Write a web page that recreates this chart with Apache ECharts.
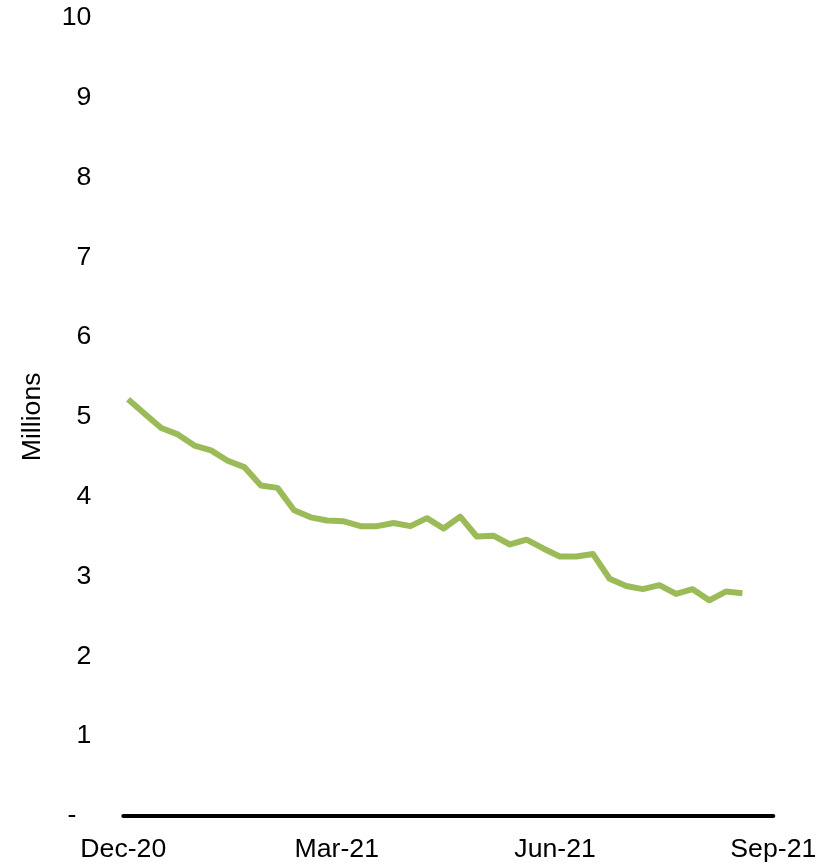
<!DOCTYPE html>
<html>
<head>
<meta charset="utf-8">
<style>
  html, body { margin: 0; padding: 0; background: #ffffff; }
  #chart { width: 832px; height: 866px; }
</style>
<script src="https://cdn.jsdelivr.net/npm/echarts@6/dist/echarts.min.js"></script>
</head>
<body>
<div id="chart"></div>
<script>
// Weekly observation dates
const weeks = [
  '2020-12-03', '2020-12-10', '2020-12-17', '2020-12-24', '2020-12-31',
  '2021-01-07', '2021-01-14', '2021-01-21', '2021-01-28',
  '2021-02-04', '2021-02-11', '2021-02-18', '2021-02-25',
  '2021-03-04', '2021-03-11', '2021-03-18', '2021-03-25',
  '2021-04-01', '2021-04-08', '2021-04-15', '2021-04-22', '2021-04-29',
  '2021-05-06', '2021-05-13', '2021-05-20', '2021-05-27',
  '2021-06-03', '2021-06-10', '2021-06-17', '2021-06-24',
  '2021-07-01', '2021-07-08', '2021-07-15', '2021-07-22', '2021-07-29',
  '2021-08-05', '2021-08-12', '2021-08-19'
];

// Weekly values, millions
const millions = [
  5.22, 5.04, 4.86, 4.78, 4.64, 4.58, 4.45, 4.37, 4.14, 4.11,
  3.83, 3.74, 3.70, 3.69, 3.63, 3.63, 3.67, 3.63, 3.73, 3.60,
  3.75, 3.50, 3.51, 3.40, 3.46, 3.35, 3.25, 3.25, 3.28, 2.97,
  2.88, 2.84, 2.89, 2.78, 2.84, 2.70, 2.81, 2.79
];

// Month ticks on the date axis and their labels
const monthTicks = ['2020-12-01', '2021-03-01', '2021-06-01', '2021-09-01'];
const monthLabels = ['Dec-20', 'Mar-21', 'Jun-21', 'Sep-21'];

// y axis range
const yMin = 0, yMax = 10, yStep = 1;

// dates are placed on a numeric axis as UTC timestamps
const toTime = s => {
  const [y, m, d] = s.split('-').map(Number);
  return Date.UTC(y, m - 1, d);
};
const tickTimes = monthTicks.map(toTime);

const font = '"Liberation Sans", Arial, sans-serif';
const fontSize = 26.67; // 20pt
const chart = echarts.init(document.getElementById('chart'), null, { renderer: 'canvas' });

chart.setOption({
  animation: false,
  backgroundColor: '#ffffff',
  grid: { left: 123.3, right: 58.7, top: 18, bottom: 50.3, containLabel: false },
  xAxis: {
    type: 'value',
    min: tickTimes[0],
    max: tickTimes[tickTimes.length - 1],
    axisLine: { show: true, onZero: false, lineStyle: { color: '#000000', width: 4 } },
    axisTick: { show: false },
    splitLine: { show: false },
    axisLabel: {
      customValues: tickTimes,
      showMinLabel: true,
      showMaxLabel: true,
      hideOverlap: false,
      margin: 20,
      color: '#000000',
      fontFamily: font,
      fontSize: fontSize,
      formatter: v => {
        const i = tickTimes.indexOf(v);
        return i >= 0 ? monthLabels[i] : '';
      }
    }
  },
  yAxis: {
    type: 'value',
    min: yMin,
    max: yMax,
    interval: yStep,
    name: 'Millions',
    nameLocation: 'middle',
    nameRotate: 90,
    nameGap: 77,
    nameTextStyle: { color: '#000000', fontFamily: font, fontSize: fontSize },
    axisLine: { show: false },
    axisTick: { show: false },
    splitLine: { show: false },
    axisLabel: {
      margin: 32,
      color: '#000000',
      fontFamily: font,
      fontSize: fontSize,
      // accounting-style zero: a dash set in from the right edge
      formatter: v => (v === 0 ? '-  ' : String(v))
    }
  },
  series: [{
    type: 'line',
    data: weeks.map((d, i) => [toTime(d), millions[i]]),
    showSymbol: false,
    symbol: 'none',
    lineStyle: { color: '#9BBB59', width: 6, cap: 'butt', join: 'round' },
    itemStyle: { color: '#9BBB59' }
  }]
});
</script>
</body>
</html>
